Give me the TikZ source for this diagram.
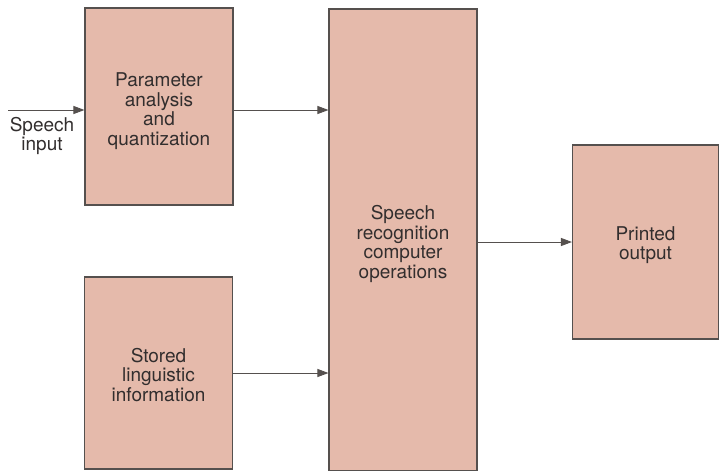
\documentclass[tikz,border=0pt]{standalone}
\usepackage{fontspec}
\setmainfont{TeX Gyre Heros}
\usetikzlibrary{arrows.meta}
\definecolor{boxfill}{RGB}{229,186,171}
\definecolor{boxline}{RGB}{85,80,78}
\definecolor{inktext}{RGB}{50,46,46}

\begin{document}
\begin{tikzpicture}[x=1pt, y=-1pt, >={Triangle[length=11pt,width=8pt]},
  block/.style={draw=boxline, line width=1.1pt, fill=boxfill, inner sep=0pt},
  blocktext/.style={text=inktext, align=center, inner sep=0pt,
    font=\fontsize{19}{19.5}\selectfont},
  flow/.style={->, draw=boxline, line width=0.9pt}]
  \useasboundingbox (0,0) rectangle (721,471);
  % boxes
  \node[block, minimum width=148pt, minimum height=197pt] (param) at (159,106.5) {};
  \node[block, minimum width=148pt, minimum height=192pt] (stored) at (158.5,373) {};
  \node[block, minimum width=148pt, minimum height=462pt] (recog) at (403,240) {};
  \node[block, minimum width=146pt, minimum height=194pt] (printed) at (645.5,242) {};
  % texts
  \node[blocktext] (paramtxt) at (159,111) {Parameter\\analysis\\and\\quantization};
  \node[blocktext] (storedtxt) at (158.5,375) {Stored\\linguistic\\information};
  \node[blocktext] (recogtxt) at (403,244) {Speech\\recognition\\computer\\operations};
  \node[blocktext] (printedtxt) at (645.5,245) {Printed\\output};
  \coordinate (speechin) at (8,110);
  \node[blocktext] (inlabel) at (42,136) {Speech\\input};
  % connectors
  \draw[flow] (speechin) -- (param.west |- speechin);
  \draw[flow] (param.east |- speechin) -- (recog.west |- speechin);
  \draw[flow] (stored.east) -- (recog.west |- stored.east);
  \draw[flow] (recog.east |- printed.west) -- (printed.west);
\end{tikzpicture}
\end{document}
